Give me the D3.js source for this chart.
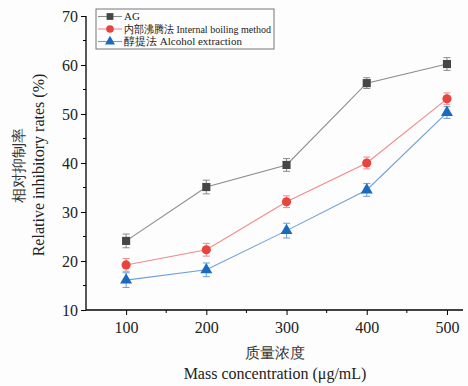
<!DOCTYPE html>
<html>
<head>
<meta charset="utf-8">
<script src="https://cdn.jsdelivr.net/npm/d3@7"></script>
<style>
  body { margin: 0; background: #fdfdfd; }
  svg { display: block; }
</style>
</head>
<body>
<svg id="chart" width="468" height="386"></svg>
<script>
// data
const conc = [100, 200, 300, 400, 500]
const seriesNames = ["AG", "内部沸腾法 Internal boiling method", "醇提法 Alcohol extraction"]
const agVals = [24.1, 35.1, 39.6, 56.3, 60.2]
const boilVals = [19.2, 22.3, 32.1, 40.0, 53.1]
const alcVals = [16.1, 18.2, 26.2, 34.5, 50.3]
const agErr = [1.4, 1.4, 1.3, 1.1, 1.3]
const boilErr = [1.3, 1.3, 1.2, 1.2, 1.2]
const alcErr = [1.5, 1.4, 1.5, 1.3, 1.2]
const xTicks = [100, 200, 300, 400, 500]
const yTicks = [10, 20, 30, 40, 50, 60, 70]

const svg = d3.select("#chart")
const serif = "'Liberation Serif', 'Times New Roman', serif"
const plotL = 86, plotR = 463, plotT = 16, plotB = 310

const x = d3.scaleLinear().domain([50, 520]).range([plotL, plotR])
const y = d3.scaleLinear().domain([10, 70]).range([plotB, plotT])

const series = [
  {name: seriesNames[0], vals: agVals, err: agErr, shape: d3.symbolSquare, size: 66, fill: "#464646", line: "#8c8c8c", bar: "#8a8a8a"},
  {name: seriesNames[1], vals: boilVals, err: boilErr, shape: d3.symbolCircle, size: 66, fill: "#e8443f", line: "#f08a88", bar: "#ec8a86"},
  {name: seriesNames[2], vals: alcVals, err: alcErr, shape: d3.symbolTriangle, size: 62, fill: "#1a6bbd", line: "#6f9fd6", bar: "#6f9fd6"}
]

// axes
const xAxis = d3.axisBottom(x).tickValues(xTicks).tickSize(5).tickPadding(7)
const yAxis = d3.axisLeft(y).tickValues(yTicks).tickSize(5).tickPadding(3)

const gx = svg.append("g").attr("transform", "translate(0," + plotB + ")").call(xAxis)
gx.select(".domain").attr("d", "M" + plotL + ",0H" + plotR)
const gy = svg.append("g").attr("transform", "translate(" + plotL + ",0)").call(yAxis)
gy.select(".domain").attr("d", "M0," + plotT + "V" + plotB)

// minor ticks
gx.selectAll(".minor").data([150, 250, 350, 450]).enter().append("line")
  .attr("x1", d => x(d)).attr("x2", d => x(d)).attr("y1", 0).attr("y2", 3)
  .attr("stroke", "#000")
gy.selectAll(".minor").data([15, 25, 35, 45, 55, 65]).enter().append("line")
  .attr("y1", d => y(d)).attr("y2", d => y(d)).attr("x1", 0).attr("x2", -3)
  .attr("stroke", "#000")

svg.selectAll(".domain").attr("stroke", "#000").attr("stroke-width", 1.3)
svg.selectAll(".tick line").attr("stroke", "#000")
svg.selectAll(".tick text").attr("font-family", serif).attr("font-size", 16).attr("fill", "#222")

// axis titles
svg.append("text").attr("x", 275).attr("y", 358).attr("text-anchor", "middle")
  .attr("font-family", serif).attr("font-size", 15).attr("fill", "#333").text("质量浓度")
svg.append("text").attr("x", 275).attr("y", 379).attr("text-anchor", "middle")
  .attr("font-family", serif).attr("font-size", 16).attr("fill", "#222").text("Mass concentration (μg/mL)")
svg.append("text").attr("transform", "translate(24,165) rotate(-90)").attr("text-anchor", "middle")
  .attr("font-family", serif).attr("font-size", 15).attr("fill", "#333").text("相对抑制率")
svg.append("text").attr("transform", "translate(44,165) rotate(-90)").attr("text-anchor", "middle")
  .attr("font-family", serif).attr("font-size", 16).attr("fill", "#222").text("Relative inhibitory rates (%)")

// lines, error bars, markers
const line = d3.line().x((d, i) => x(conc[i])).y(d => y(d))
series.forEach(s => {
  svg.append("path").attr("d", line(s.vals)).attr("fill", "none")
    .attr("stroke", s.line).attr("stroke-width", 1.1)
  const eb = svg.append("g").attr("stroke", s.bar).attr("stroke-width", 1)
  s.vals.forEach((v, i) => {
    const cx = x(conc[i]), y1 = y(v + s.err[i]), y2 = y(v - s.err[i])
    eb.append("line").attr("x1", cx).attr("x2", cx).attr("y1", y1).attr("y2", y2)
    eb.append("line").attr("x1", cx - 3.5).attr("x2", cx + 3.5).attr("y1", y1).attr("y2", y1)
    eb.append("line").attr("x1", cx - 3.5).attr("x2", cx + 3.5).attr("y1", y2).attr("y2", y2)
  })
  svg.selectAll(null).data(s.vals).enter().append("path")
    .attr("d", d3.symbol().type(s.shape).size(s.size))
    .attr("transform", (d, i) => "translate(" + x(conc[i]) + "," + y(d) + ")")
    .attr("fill", s.fill)
})

// legend
const lg = svg.append("g").attr("transform", "translate(96,9)")
lg.append("rect").attr("width", 178).attr("height", 40).attr("fill", "#fdfdfd")
  .attr("stroke", "#777").attr("stroke-width", 1)
series.forEach((s, i) => {
  const ly = 7.5 + i * 12.5
  lg.append("line").attr("x1", 2).attr("x2", 26).attr("y1", ly).attr("y2", ly)
    .attr("stroke", s.line).attr("stroke-width", 1.1)
  lg.append("path").attr("d", d3.symbol().type(s.shape).size(s.size * 0.7))
    .attr("transform", "translate(14," + ly + ")").attr("fill", s.fill)
  const t = lg.append("text").attr("x", 28).attr("y", ly + 3.8).attr("font-family", serif)
    .attr("font-size", 11).attr("fill", "#222").text(s.name)
  // keep long label inside the box
  const w = t.node().getComputedTextLength()
  if (w > 147) t.attr("textLength", 147).attr("lengthAdjust", "spacingAndGlyphs")
})
</script>
</body>
</html>
